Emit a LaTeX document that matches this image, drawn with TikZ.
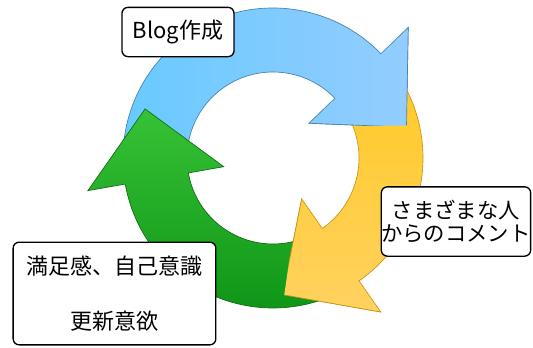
\documentclass[tikz,border=0pt]{standalone}
\usepackage{fontspec}
\setmainfont{Noto Sans CJK JP}
\usepackage{tikz}

\definecolor{bluetop}{RGB}{104,202,255}
\definecolor{bluebot}{RGB}{148,204,255}
\definecolor{blueline}{RGB}{70,130,170}
\definecolor{yellowtop}{RGB}{255,202,40}
\definecolor{yellowbot}{RGB}{255,210,96}
\definecolor{yellowline}{RGB}{196,148,20}
\definecolor{greentop}{RGB}{54,194,54}
\definecolor{greenbot}{RGB}{14,148,22}
\definecolor{greenline}{RGB}{12,110,12}

% ring arrow: tail angle, head base angle
\newcommand{\ringarrow}[2]{(#1:150) arc[start angle=#1, end angle=#2, radius=150]
    -- (#2:188) -- ({#2-31}:137) -- (#2:50) -- (#2:86)
    arc[start angle=#2, end angle=#1, radius=86] -- cycle}

\tikzset{
    bluearrow/.style={left color=bluetop, right color=bluebot, draw=blueline, line width=0.5pt},
    yellowarrow/.style={top color=yellowtop, bottom color=yellowbot, draw=yellowline, line width=0.5pt},
    greenarrow/.style={top color=greentop, bottom color=greenbot, draw=greenline, line width=0.5pt},
    tagbox/.style={draw, fill=white, line width=1pt, rounded corners=4.5pt, inner sep=0pt, align=center}
}

\begin{document}
\begin{tikzpicture}[x=0.75pt, y=0.75pt]
    \useasboundingbox (-273,-189) rectangle (260,158);

    \shade[bluearrow] \ringarrow{178}{44};
    \shade[yellowarrow] \ringarrow{32}{-55};
    \shade[greenarrow] \ringarrow{-67}{-170};
    % heads on top
    \begin{scope}
        \clip (44:195) -- (13:145) -- (44:45) -- cycle;
        \shade[bluearrow] \ringarrow{178}{44};
    \end{scope}
    \begin{scope}
        \clip (-55:195) -- (-86:145) -- (-55:45) -- cycle;
        \shade[yellowarrow] \ringarrow{32}{-55};
    \end{scope}

    \node[tagbox, minimum width=84pt, minimum height=37pt, font=\fontsize{16.5}{20}\selectfont] (blog) at (-95,126) {Blog作成};
    \node[tagbox, minimum width=111pt, minimum height=52pt, font=\fontsize{16}{17.3}\selectfont] (comment) at (183,-63.5) {さまざまな人\\からのコメント};
    \node[tagbox, minimum width=152pt, minimum height=77pt, font=\fontsize{16.5}{20.6}\selectfont] (motive) at (-158.5,-135.5) {満足感、自己意識\\ \\更新意欲};
\end{tikzpicture}
\end{document}
